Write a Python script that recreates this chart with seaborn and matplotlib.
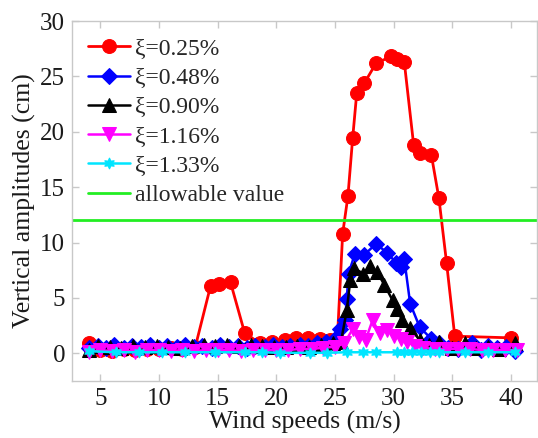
import matplotlib
matplotlib.use("Agg")
import matplotlib.pyplot as plt
import seaborn as sns
import pandas as pd

# Wind speed (m/s) and vertical amplitude (cm) for each damping ratio
wind_025 = [4, 5, 6, 7, 8, 9, 10, 11, 12, 13.1, 14.4, 15.1, 16.1, 17.3, 18.6, 19.6,
            20.7, 21.7, 22.7, 23.7, 24.6, 25.2, 25.65, 26.1, 26.5, 26.85, 27.5, 28.5,
            29.8, 30.3, 30.9, 31.7, 32.2, 33.2, 33.85, 34.5, 35.2, 40.0]
amp_025 = [0.95, 0.3, 0.25, 0.35, 0.3, 0.4, 0.35, 0.45, 0.4, 0.6, 6.1, 6.25, 6.4, 1.85,
           0.9, 1.0, 1.2, 1.35, 1.35, 1.3, 1.2, 1.3, 10.8, 14.2, 19.4, 23.5, 24.4, 26.2,
           26.8, 26.6, 26.3, 18.8, 18.1, 17.95, 14.0, 8.2, 1.55, 1.4]

wind_048 = [4, 4.8, 5.5, 6.2, 7.0, 7.7, 8.5, 9.2, 10.0, 10.7, 11.5, 12.2, 13.0, 13.7,
            14.5, 15.2, 16.0, 16.7, 17.5, 18.2, 19.0, 19.7, 20.5, 21.2, 22.0, 22.7,
            23.5, 24.2, 25.0, 25.4, 25.85, 26.0, 26.15, 26.7, 27.5, 28.5, 29.4, 30.2,
            30.6, 30.9, 31.4, 32.2, 33.2, 33.9, 34.6, 35.5, 36.7, 37.4, 38.0, 38.8,
            39.6, 40.3]
amp_048 = [0.5, 0.7, 0.5, 0.8, 0.5, 0.7, 0.6, 0.8, 0.5, 0.7, 0.6, 0.8, 0.6, 0.7, 0.5,
           0.8, 0.6, 0.7, 0.5, 0.7, 0.6, 0.8, 0.6, 0.7, 0.8, 0.7, 0.9, 1.0, 1.3, 2.2,
           3.0, 4.9, 7.2, 9.0, 8.9, 9.9, 9.1, 8.2, 7.8, 8.5, 4.5, 2.4, 1.3, 0.9, 0.5,
           0.4, 0.9, 0.3, 0.7, 0.5, 0.6, 0.2]

wind_090 = [4, 4.8, 5.8, 6.8, 7.8, 8.8, 9.8, 10.8, 11.8, 12.8, 13.8, 14.8, 15.8, 16.8,
            17.8, 18.8, 19.8, 20.8, 21.8, 22.8, 23.8, 24.8, 25.5, 26.0, 26.3, 26.6,
            27.4, 28.0, 28.6, 29.2, 29.9, 30.3, 30.7, 31.4, 32.2, 33.0, 33.9, 35.0,
            36.1, 37.0, 38.0, 39.0, 40.3]
amp_090 = [0.3, 0.7, 0.6, 0.5, 0.7, 0.6, 0.7, 0.6, 0.5, 0.7, 0.8, 0.7, 0.8, 0.7, 0.8,
           0.7, 0.6, 0.6, 0.7, 0.6, 0.8, 0.9, 1.0, 3.9, 6.6, 7.7, 7.2, 7.9, 7.3, 6.2,
           4.8, 4.0, 3.0, 2.3, 1.2, 0.8, 1.0, 0.5, 0.9, 0.5, 0.6, 0.4, 0.9]

wind_116 = [4, 5, 6, 7, 8, 9, 10, 11, 12, 13, 14, 15, 16, 17, 18, 19, 20, 21, 22, 23,
            24, 25, 25.8, 26.5, 27.0, 27.6, 28.2, 28.8, 29.4, 30.0, 30.6, 31.1, 31.8,
            32.5, 33.5, 34.5, 35.5, 36.5, 37.5, 38.5, 39.5, 40.5]
amp_116 = [0.1, 0.3, 0.2, 0.3, 0.1, 0.3, 0.3, 0.2, 0.3, 0.2, 0.3, 0.3, 0.3, 0.2, 0.3,
           0.3, 0.3, 0.3, 0.4, 0.4, 0.5, 0.6, 0.9, 2.2, 1.5, 1.2, 3.0, 1.8, 2.1, 1.6,
           1.3, 1.0, 0.7, 0.5, 0.4, 0.4, 0.4, 0.4, 0.3, 0.3, 0.3, 0.3]

wind_133 = [4, 6.3, 8.3, 10.3, 12.2, 14.8, 17.3, 18.8, 20.3, 22.9, 24.3, 26.0, 27.4,
            28.5, 30.25, 30.9, 31.6, 32.3, 33.1, 33.9, 36.1, 38.0, 40.3]
amp_133 = [0.2, 0.1, 0.1, 0.1, 0.1, 0.1, 0.1, 0.1, 0.05, 0.05, 0.05, 0.1, 0.1, 0.1,
           0.1, 0.1, 0.1, 0.1, 0.1, 0.1, 0.1, 0.1, 0.1]

allowable = 12.0

labels = ["ξ=0.25%", "ξ=0.48%", "ξ=0.90%", "ξ=1.16%", "ξ=1.33%"]

series = [
    (wind_025, amp_025, "#ff0000", "o", 10, 2.0),
    (wind_048, amp_048, "#0000ff", "D", 8.5, 1.8),
    (wind_090, amp_090, "#000000", "^", 9.5, 1.8),
    (wind_116, amp_116, "#ff00ff", "v", 9.5, 1.8),
    (wind_133, amp_133, "#00e5ff", (6, 1, 0), 8, 1.8),
]

sns.set_theme(style="white")
plt.rcParams["font.family"] = ["Liberation Serif", "DejaVu Serif"]

fig = plt.figure(figsize=(5.38, 4.38), dpi=100)
ax = fig.add_axes([0.134, 0.130, 0.864, 0.822])

for (wx, wy, col, mk, ms, lw), lab in zip(series, labels):
    df = pd.DataFrame({"wind": wx, "amp": wy})
    sns.lineplot(data=df, x="wind", y="amp", ax=ax, color=col, marker=mk,
                 markersize=ms, markeredgecolor=col, markerfacecolor=col,
                 linewidth=lw, sort=False, estimator=None, label=lab)

ax.axhline(allowable, color="#22ee22", linewidth=2.0, label="allowable value")

ax.set_xlim(2.6, 42.2)
ax.set_ylim(-2.5, 30)
ax.set_xticks([5, 10, 15, 20, 25, 30, 35, 40])
ax.set_yticks([0, 5, 10, 15, 20, 25, 30])
ax.set_xlabel("Wind speeds (m/s)", fontsize=18.5, color="#1a1a1a", labelpad=1)
ax.set_ylabel("Vertical amplitudes (cm)", fontsize=18.5, color="#1a1a1a", labelpad=3)

for sp in ax.spines.values():
    sp.set_color("#c8c8c8")
    sp.set_linewidth(1.0)
ax.tick_params(axis="both", direction="in", length=5, width=1.0, color="#c8c8c8",
               labelsize=18, labelcolor="#1a1a1a", top=True, right=True,
               bottom=True, left=True, pad=5)

leg = ax.legend(loc="upper left", frameon=False, fontsize=17, handlelength=1.8,
                handletextpad=0.2, labelspacing=0.33, borderaxespad=0.0,
                borderpad=0.0, bbox_to_anchor=(0.034, 0.953))

fig.savefig("out.png", dpi=100)
